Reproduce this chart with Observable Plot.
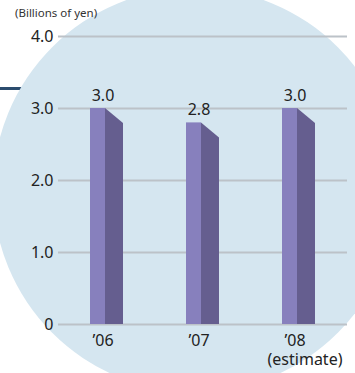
<!DOCTYPE html>
<html><head><meta charset="utf-8">
<script src="https://cdn.jsdelivr.net/npm/d3@7"></script>
<script src="https://cdn.jsdelivr.net/npm/@observablehq/plot@0.6"></script>
<style>
body{margin:0;background:#fff;font-family:"Noto Sans",sans-serif;}
#wrap{position:relative;width:355px;height:373px;overflow:hidden;}
#navy{position:absolute;left:0;top:87px;width:40px;height:3px;background:#2b4c6e;}
#circle{position:absolute;left:-7px;top:-12px;width:404px;height:404px;border-radius:50%;background:#d5e6f0;}
#unit{position:absolute;left:15px;top:5px;font-size:11.5px;color:#333;white-space:nowrap;}
#chart{position:absolute;left:0;top:0;}
</style>
</head><body>
<div id="wrap"><div id="navy"></div><div id="circle"></div><div id="chart"></div><div id="unit">(Billions of yen)</div></div>
<script>
const categories = ["06", "07", "08"];
const values = [3.0, 2.8, 3.0];
const xLabels = ["\u201906", "\u201907", "\u201908"];
const estimateLabel = ["", "", "(estimate)"];
const yTicks = [0, 1, 2, 3, 4];
const yTickLabels = ["0", "1.0", "2.0", "3.0", "4.0"];

const data = categories.map((c, i) => ({year: c, value: values[i]}));
const frontColor = "#8780bd", sideColor = "#655e8f";

const sideFaces = (index, scales) => {
  const {x, y} = scales;
  const bw = x.bandwidth();
  const g = d3.create("svg:g");
  g.selectAll("path").data(data).join("path")
    .attr("fill", sideColor)
    .attr("d", d => {
      const x0 = x(d.year) + bw * 15 / 33, x1 = x(d.year) + bw;
      const y0 = y(d.value), yb = y(0);
      return `M${x0},${y0}L${x1},${y0 + 15}L${x1},${yb}L${x0},${yb}Z`;
    });
  return g.node();
};

const chart = Plot.plot({
  width: 355,
  height: 373,
  marginTop: 36,
  marginBottom: 49,
  marginLeft: 58,
  marginRight: 8,
  style: {background: "transparent", fontFamily: "Noto Sans", fontSize: "16px", color: "#222", overflow: "visible"},
  x: {domain: categories, paddingInner: 0.656, paddingOuter: 0.333, axis: null},
  y: {domain: [0, 4], ticks: yTicks, tickFormat: d => yTickLabels[yTicks.indexOf(d)], tickSize: 0, tickPadding: 5, label: null},
  marks: [
    Plot.ruleY(yTicks, {stroke: "#bcc2c8", strokeWidth: 2}),
    sideFaces,
    Plot.barY(data, {x: "year", y: "value", fill: frontColor, insetRight: 18}),
    Plot.text(data, {x: "year", y: "value", text: d => d.value.toFixed(1), dx: -4, dy: -13, fontSize: 16, fill: "#222"}),
    Plot.text(categories, {x: d => d, text: (d, i) => xLabels[i], frameAnchor: "bottom", dy: 21, dx: -4, fontSize: 16, fill: "#222"}),
    Plot.text(categories, {x: d => d, text: (d, i) => estimateLabel[i], frameAnchor: "bottom", dy: 40, dx: 6, fontSize: 16, fill: "#222"})
  ]
});
document.getElementById("chart").appendChild(chart);
</script>
</body></html>
